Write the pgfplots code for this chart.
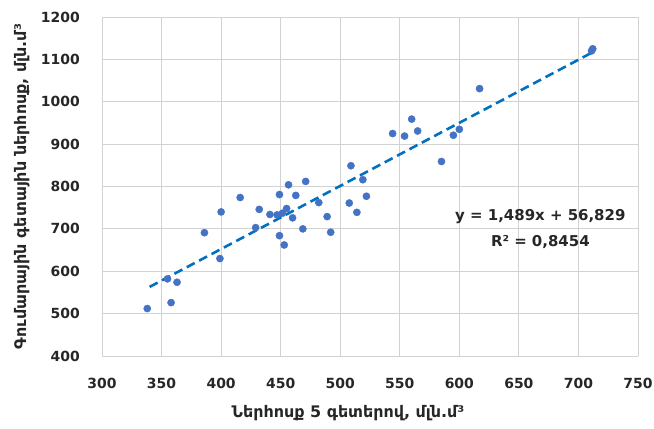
\documentclass[border=0pt]{standalone}
\usepackage{pgfplots}
\pgfplotsset{compat=1.18}
\usepackage{fontspec}
\setmainfont{DejaVu Sans}
\definecolor{ptblue}{RGB}{68,114,196}
\definecolor{trend}{RGB}{0,112,192}
\definecolor{gridc}{RGB}{210,210,210}
\begin{document}
\begin{tikzpicture}
\begin{axis}[
  scale only axis,
  width=536bp, height=339bp,
  xmin=300, xmax=750, ymin=400, ymax=1200,
  xtick={300,350,...,750}, ytick={400,500,...,1200},
  grid=major,
  major grid style={gridc, line width=0.8pt},
  axis line style={gridc, line width=0.8pt},
  axis lines*=left,
  tick style={draw=none},
  /pgf/number format/assume math mode=true,
  /pgf/number format/set thousands separator={},
  ticklabel style={font=\fontsize{14}{16}\selectfont\bfseries, text=black!85},
  xticklabel style={anchor=center, yshift=-27bp},
  yticklabel style={anchor=east, inner sep=0pt, xshift=-22bp},
  xlabel={Ներհոսք 5 գետերով, մլն.մ³},
  ylabel={Գումարային գետային ներհոսք, մլն.մ³},
  every axis x label/.style={at={([xshift=-22bp, yshift=-57bp]rel axis cs:0.5,0)}, anchor=center, font=\fontsize{16}{18}\selectfont\bfseries, text=black!85},
  every axis y label/.style={at={([xshift=-80bp]rel axis cs:0,0.5)}, anchor=center, rotate=90, font=\fontsize{16}{18}\selectfont\bfseries, text=black!85},
  clip=false,
]
\addplot[only marks, mark=*, mark size=3.6bp, color=ptblue] coordinates {
(338,512) (355,582) (363,574) (358,526) (386,691) (399,630) (400,740)
(416,774) (432,746) (429,703) (441,734) (447,733) (449,781) (451.5,737)
(455,748) (449,684) (453,662) (456.6,804) (462.7,779) (460,726)
(471,812) (468.6,700) (482,762) (489,729) (492,692) (509,849)
(507.6,761) (519,816) (522,777) (514,739) (544,925) (554,919)
(560,959) (565,931) (585,859) (595,921) (600,935) (617,1031)
(712,1125) (711,1120)
};
\addplot[trend, line width=2.6pt, dash pattern=on 9bp off 5bp] coordinates {(340,563.1) (712,1117.0)};
\node[font=\fontsize{15}{17}\selectfont\bfseries, text=black!85] at (axis cs:668,729) {y = 1,489x + 56,829};
\node[font=\fontsize{15}{17}\selectfont\bfseries, text=black!85] at (axis cs:668,670) {R² = 0,8454};
\coordinate (tl) at ([xshift=-102bp, yshift=17bp]rel axis cs:0,1);
\coordinate (br) at ([xshift=16bp, yshift=-73bp]rel axis cs:1,0);
\end{axis}
\pgfresetboundingbox
\path[use as bounding box] (tl) rectangle (br);
\end{tikzpicture}
\end{document}
